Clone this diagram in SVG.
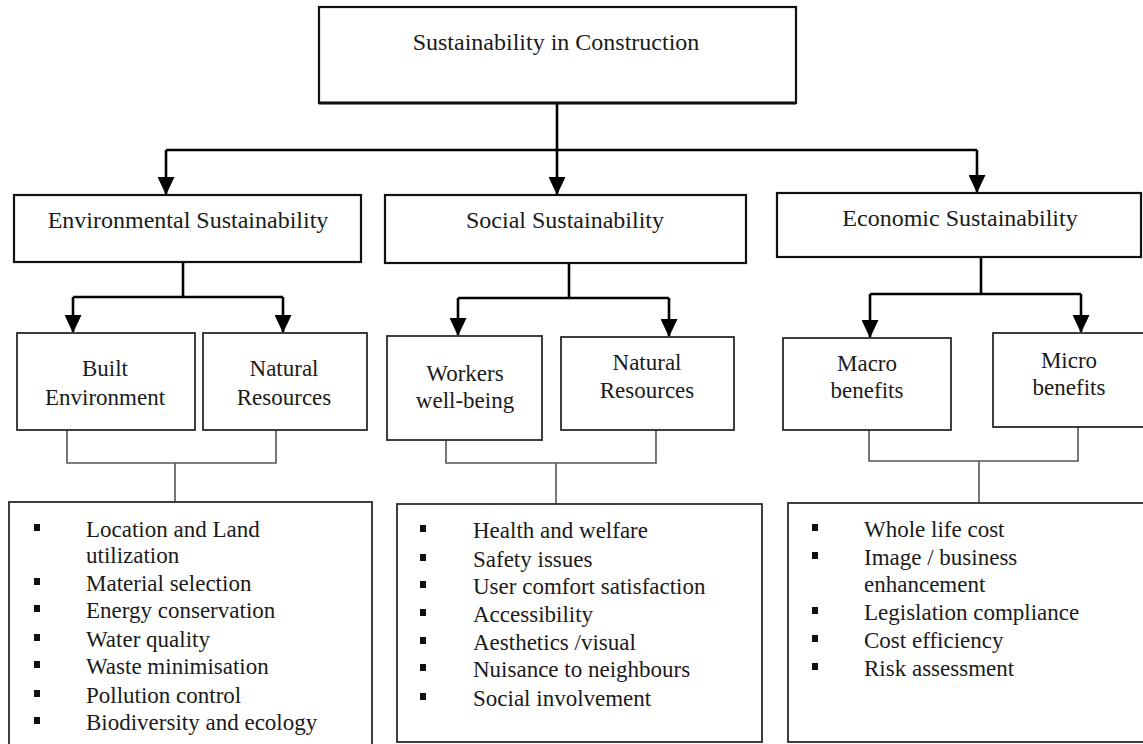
<svg xmlns="http://www.w3.org/2000/svg" width="1143" height="744" viewBox="0 0 1143 744">
<style>
.bx{fill:#fff;stroke:#111;stroke-width:2.2}
.bx3{fill:#fff;stroke:#2a2a2a;stroke-width:1.8}
.t{font-family:"Liberation Serif","Times New Roman",serif;fill:#1a1a1a}
.t24{font-size:24px;text-anchor:middle}
.t23{font-size:23px;text-anchor:middle}
.li{font-size:23px}
.arr{fill:none;stroke:#000;stroke-width:2.6}
.br{fill:none;stroke:#555;stroke-width:1.6}
.bul{fill:#111}
</style>
<defs>
<marker id="ah" markerUnits="userSpaceOnUse" markerWidth="18" markerHeight="17" refX="17" refY="8.5" orient="auto" viewBox="0 0 18 17">
<path d="M0,0 L18,8.5 L0,17 z" fill="#000"/>
</marker>
<rect id="b" width="6" height="7"/>
</defs>

<g id="connectors">
<path class="arr" d="M557,103 V150"/>
<path class="arr" d="M166,150 H977"/>
<path class="arr" d="M166,150 V194" marker-end="url(#ah)"/>
<path class="arr" d="M557,150 V194" marker-end="url(#ah)"/>
<path class="arr" d="M977,150 V192" marker-end="url(#ah)"/>

<path class="arr" d="M183,262 V297 M73,297 H283"/>
<path class="arr" d="M73,297 V332" marker-end="url(#ah)"/>
<path class="arr" d="M283,297 V332" marker-end="url(#ah)"/>

<path class="arr" d="M569,263 V298 M458,298 H669"/>
<path class="arr" d="M458,298 V335" marker-end="url(#ah)"/>
<path class="arr" d="M669,298 V336" marker-end="url(#ah)"/>

<path class="arr" d="M981,257 V294 M870,294 H1081"/>
<path class="arr" d="M870,294 V337" marker-end="url(#ah)"/>
<path class="arr" d="M1081,294 V332" marker-end="url(#ah)"/>

<path class="br" d="M67,430 V463 H276 V430 M175,463 V502"/>
<path class="br" d="M446,428 V463 H656 V430 M556,463 V504"/>
<path class="br" d="M869,430 V461 H1078 V427 M979,461 V503"/>
</g>

<g id="root">
<rect class="bx" x="319" y="7" width="477" height="96"/>
<path d="M319,103 H796" stroke="#111" stroke-width="3"/>
<text class="t t24" x="556" y="50">Sustainability in Construction</text>
</g>

<g id="env">
<rect class="bx" x="14" y="195" width="347" height="67"/>
<text class="t t24" x="188" y="228">Environmental Sustainability</text>
</g>
<g id="social">
<rect class="bx" x="385" y="195" width="361" height="68"/>
<text class="t t24" x="565" y="228">Social Sustainability</text>
</g>
<g id="econ">
<rect class="bx" x="777" y="193" width="364" height="64"/>
<text class="t t24" x="960" y="226">Economic Sustainability</text>
</g>

<g id="built">
<rect class="bx3" x="17" y="333" width="178" height="97"/>
<text class="t t23" x="105" y="376">Built</text>
<text class="t t23" x="105" y="405">Environment</text>
</g>
<g id="natural1">
<rect class="bx3" x="203" y="333" width="164" height="97"/>
<text class="t t23" x="284" y="376">Natural</text>
<text class="t t23" x="284" y="405">Resources</text>
</g>
<g id="workers">
<rect class="bx3" x="387" y="336" width="155" height="104"/>
<text class="t t23" x="465" y="381">Workers</text>
<text class="t t23" x="465" y="408">well-being</text>
</g>
<g id="natural2">
<rect class="bx3" x="561" y="337" width="173" height="93"/>
<text class="t t23" x="647" y="370">Natural</text>
<text class="t t23" x="647" y="398">Resources</text>
</g>
<g id="macro">
<rect class="bx3" x="783" y="338" width="168" height="92"/>
<text class="t t23" x="867" y="371">Macro</text>
<text class="t t23" x="867" y="398">benefits</text>
</g>
<g id="micro">
<rect class="bx3" x="993" y="333" width="160" height="94"/>
<text class="t t23" x="1069" y="368">Micro</text>
<text class="t t23" x="1069" y="395">benefits</text>
</g>

<g id="env-list">
<rect class="bx3" x="9" y="502" width="363" height="260"/>
<use href="#b" class="bul" x="34" y="524"/>
<use href="#b" class="bul" x="34" y="578"/>
<use href="#b" class="bul" x="34" y="605"/>
<use href="#b" class="bul" x="34" y="634"/>
<use href="#b" class="bul" x="34" y="661"/>
<use href="#b" class="bul" x="34" y="690"/>
<use href="#b" class="bul" x="34" y="717"/>
<text class="t li" x="86" y="537">Location and Land</text>
<text class="t li" x="86" y="563">utilization</text>
<text class="t li" x="86" y="591">Material selection</text>
<text class="t li" x="86" y="618">Energy conservation</text>
<text class="t li" x="86" y="647">Water quality</text>
<text class="t li" x="86" y="674">Waste minimisation</text>
<text class="t li" x="86" y="703">Pollution control</text>
<text class="t li" x="86" y="730">Biodiversity and ecology</text>
</g>

<g id="social-list">
<rect class="bx3" x="397" y="504" width="365" height="238"/>
<use href="#b" class="bul" x="420" y="525"/>
<use href="#b" class="bul" x="420" y="554"/>
<use href="#b" class="bul" x="420" y="581"/>
<use href="#b" class="bul" x="420" y="609"/>
<use href="#b" class="bul" x="420" y="637"/>
<use href="#b" class="bul" x="420" y="664"/>
<use href="#b" class="bul" x="420" y="693"/>
<text class="t li" x="473" y="538">Health and welfare</text>
<text class="t li" x="473" y="567">Safety issues</text>
<text class="t li" x="473" y="594">User comfort satisfaction</text>
<text class="t li" x="473" y="622">Accessibility</text>
<text class="t li" x="473" y="650">Aesthetics /visual</text>
<text class="t li" x="473" y="677">Nuisance to neighbours</text>
<text class="t li" x="473" y="706">Social involvement</text>
</g>

<g id="econ-list">
<rect class="bx3" x="788" y="503" width="365" height="239"/>
<use href="#b" class="bul" x="812" y="524"/>
<use href="#b" class="bul" x="812" y="552"/>
<use href="#b" class="bul" x="812" y="607"/>
<use href="#b" class="bul" x="812" y="635"/>
<use href="#b" class="bul" x="812" y="663"/>
<text class="t li" x="864" y="537">Whole life cost</text>
<text class="t li" x="864" y="565">Image / business</text>
<text class="t li" x="864" y="592">enhancement</text>
<text class="t li" x="864" y="620">Legislation compliance</text>
<text class="t li" x="864" y="648">Cost efficiency</text>
<text class="t li" x="864" y="676">Risk assessment</text>
</g>
</svg>
